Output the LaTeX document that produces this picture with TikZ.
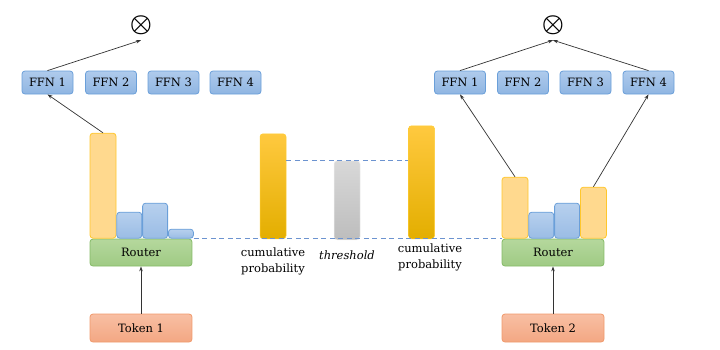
\documentclass[tikz,border=0pt]{standalone}
\usepackage{amsmath,amssymb}
\usepackage{fontspec}
\setmainfont{DejaVu Serif}
\usetikzlibrary{positioning,arrows.meta,calc}
\definecolor{ffntop}{HTML}{AFCBEC}
\definecolor{ffnbot}{HTML}{8FB5E2}
\definecolor{ffnline}{HTML}{6A9FD9}
\definecolor{rtop}{HTML}{B5D89D}
\definecolor{rbot}{HTML}{9FCA84}
\definecolor{rline}{HTML}{84BA67}
\definecolor{ttop}{HTML}{F8BFA3}
\definecolor{tbot}{HTML}{F3A783}
\definecolor{tline}{HTML}{F09A6C}
\definecolor{hifill}{HTML}{FFD98E}
\definecolor{hiline}{HTML}{FFC72C}
\definecolor{cumtop}{HTML}{FFC93F}
\definecolor{cummid}{HTML}{FFC000}
\definecolor{cumbot}{HTML}{E3AE00}
\definecolor{thrtop}{HTML}{D8D8D8}
\definecolor{thrbot}{HTML}{BDBDBD}
\definecolor{dashblue}{HTML}{6C93D0}

\begin{document}
\begin{tikzpicture}[x=1pt,y=-1pt, every node/.style={font=\fontsize{11.5}{16}\selectfont},
    ffn/.style={draw=ffnline,line width=0.8pt,rounded corners=3pt,top color=ffntop,bottom color=ffnbot,minimum width=51pt,minimum height=23pt,inner sep=0pt},
    router/.style={draw=rline,line width=0.8pt,rounded corners=3pt,top color=rtop,bottom color=rbot,minimum width=102pt,minimum height=27pt,inner sep=0pt},
    token/.style={draw=tline,line width=0.8pt,rounded corners=3pt,top color=ttop,bottom color=tbot,minimum width=102pt,minimum height=28pt,inner sep=0pt},
    hibar/.style={draw=hiline,line width=0.8pt,rounded corners=3pt,fill=hifill,minimum width=26pt,inner sep=0pt,anchor=south west},
    lobar/.style={draw=ffnline,line width=0.8pt,rounded corners=3pt,top color=ffntop!90,bottom color=ffnbot!90,minimum width=25pt,inner sep=0pt,anchor=south west},
    cumbar/.style={draw=cummid!80,line width=0.5pt,rounded corners=3pt,top color=cumtop,middle color=cummid,bottom color=cumbot,minimum width=26pt,inner sep=0pt,anchor=south},
    thrbar/.style={draw=thrtop!80!black!20,line width=0.5pt,rounded corners=3pt,top color=thrtop,bottom color=thrbot,minimum width=26pt,inner sep=0pt,anchor=south},
    arr/.style={-{Stealth[length=5pt,width=3.5pt]},line width=0.7pt,draw=black!80},
    dashline/.style={dashblue,line width=0.9pt,dash pattern=on 5pt off 3.5pt}]
  \useasboundingbox (0,0) rectangle (720,349);
  \node[minimum size=30pt,inner sep=0pt] (oL) at (141,25) {\fontsize{26}{26}\selectfont$\boldsymbol{\otimes}$};
  \node[ffn] (fL1) at (47.5,82.5) {FFN 1};
  \node[ffn] (fL2) at (111,82.5) {FFN 2};
  \node[ffn] (fL3) at (173.5,82.5) {FFN 3};
  \node[ffn] (fL4) at (235.5,82.5) {FFN 4};
  \node[router] (rL) at (141,252.5) {Router};
  \node[token] (tL) at (141,328) {Token 1};
  \node[hibar,minimum height=105pt] (bL1) at (rL.north west) {};
  \node[lobar,minimum height=26pt] (bL2) at (bL1.south east) {};
  \node[lobar,minimum height=35pt] (bL3) at (bL2.south east) {};
  \node[lobar,minimum height=9pt] (bL4) at (bL3.south east) {};
  \draw[arr] (tL.north) -- (rL.south);
  \draw[arr] (bL1.north) -- (fL1.south);
  \draw[arr] (fL1.north) -- (oL.south);

  \node[cumbar,minimum height=105pt] (cL) at (273,239) {};
  \node[thrbar,minimum height=79pt] (thr) at (347,240) {};
  \node[cumbar,minimum height=113pt] (cR) at (421.5,239) {};
  \node[align=center] (lcL) at (273,261) {cumulative\\probability};
  \node (lth) at (347,255) {\textit{threshold}};
  \node[align=center] (lcR) at (430,257) {cumulative\\probability};

  \node[minimum size=30pt,inner sep=0pt] (oR) at (553,25) {\fontsize{26}{26}\selectfont$\boldsymbol{\otimes}$};
  \node[ffn] (fR1) at (460,82.5) {FFN 1};
  \node[ffn] (fR2) at (523,82.5) {FFN 2};
  \node[ffn] (fR3) at (585.5,82.5) {FFN 3};
  \node[ffn] (fR4) at (648.5,82.5) {FFN 4};
  \node[router] (rR) at (553,252.5) {Router};
  \node[token] (tR) at (553,328) {Token 2};
  \node[hibar,minimum height=61pt] (bR1) at (rR.north west) {};
  \node[lobar,minimum height=26pt] (bR2) at (bR1.south east) {};
  \node[lobar,minimum height=35pt] (bR3) at (bR2.south east) {};
  \node[hibar,minimum height=51pt] (bR4) at (bR3.south east) {};
  \draw[arr] (tR.north) -- (rR.south);
  \draw[arr] (bR1.north) -- (fR1.south);
  \draw[arr] (bR4.north) -- (fR4.south);
  \draw[arr] (fR1.north) -- (oR.south);
  \draw[arr] (fR4.north) -- (oR.south);

  \draw[dashline] (bL4.south east) -- (rR.north west);
  \draw[dashline] (thr.north -| cL.east) -- (thr.north -| cR.west);
\end{tikzpicture}
\end{document}
